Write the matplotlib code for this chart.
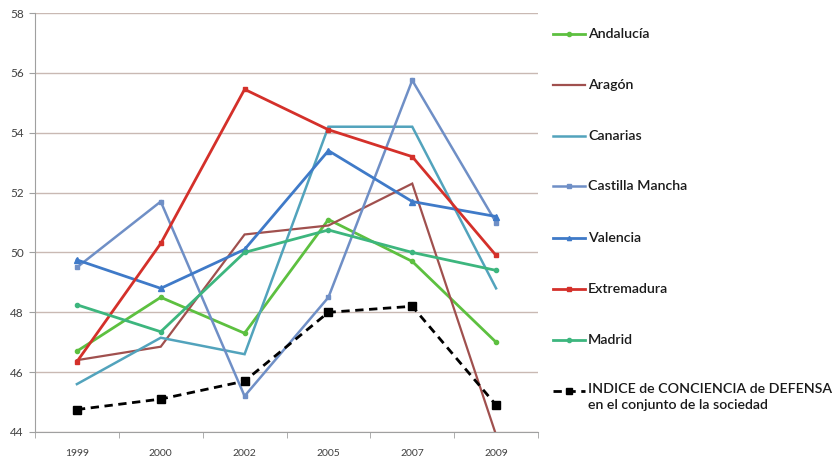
import matplotlib
matplotlib.use("Agg")
import matplotlib.pyplot as plt
from matplotlib.lines import Line2D

years = ["1999", "2000", "2002", "2005", "2007", "2009"]
andalucia = [46.7, 48.5, 47.3, 51.1, 49.7, 47.0]
aragon = [46.4, 46.85, 50.6, 50.9, 52.3, 43.9]
canarias = [45.6, 47.15, 46.6, 54.2, 54.2, 48.8]
castilla_mancha = [49.5, 51.7, 45.2, 48.5, 55.75, 51.0]
valencia = [49.75, 48.8, 50.1, 53.4, 51.7, 51.2]
extremadura = [46.35, 50.3, 55.45, 54.1, 53.2, 49.9]
madrid = [48.25, 47.35, 50.0, 50.75, 50.0, 49.4]
indice = [44.75, 45.1, 45.7, 48.0, 48.2, 44.9]

labels = ["Andalucía", "Aragón", "Canarias", "Castilla Mancha", "Valencia",
          "Extremadura", "Madrid",
          "INDICE de CONCIENCIA de DEFENSA\nen el conjunto de la sociedad"]
yticks = [44, 46, 48, 50, 52, 54, 56, 58]

series = [andalucia, aragon, canarias, castilla_mancha, valencia, extremadura, madrid, indice]
styles = [
    dict(color="#5DC040", marker="o", ms=3, lw=2.0),
    dict(color="#A0504E", marker="", ms=0, lw=1.6),
    dict(color="#52A3BC", marker="", ms=0, lw=1.8),
    dict(color="#6F8FC6", marker="s", ms=3.5, lw=1.8),
    dict(color="#3F7AC8", marker="^", ms=4, lw=2.0),
    dict(color="#D4302A", marker="s", ms=3.5, lw=2.0),
    dict(color="#3DB67E", marker="o", ms=3, lw=2.0),
    dict(color="#000000", marker="s", ms=5.5, lw=2.0, ls=(0, (3, 2))),
]

plt.rcParams["font.family"] = ["Lato", "DejaVu Sans"]
fig = plt.figure(figsize=(8.33, 4.62), dpi=100)
ax = fig.add_axes([35/833, 1-432/462, (538-35)/833, (432-13)/462])

x = list(range(len(years)))
for vals, st in zip(series, styles):
    ax.plot(x, vals, solid_joinstyle="miter", **st)

ax.set_xlim(-0.5, len(years)-0.5)
ax.set_ylim(44, 58)
ax.set_yticks(yticks)
ax.set_yticklabels([str(v) for v in yticks])
ax.grid(axis="y", color="#C9B9B3", lw=1.0)
ax.set_axisbelow(True)
ax.set_xticks(x)
ax.set_xticklabels(years)
ax.set_xticks([i-0.5 for i in range(len(years)+1)], minor=True)
ax.tick_params(axis="x", which="major", length=0, pad=12, labelsize=7.5, labelcolor="#404040")
ax.tick_params(axis="x", which="minor", length=4, color="#A0A0A0", direction="out")
ax.tick_params(axis="y", length=4, color="#A0A0A0", labelsize=8.5, labelcolor="#404040", pad=4)
for s in ["top", "right"]:
    ax.spines[s].set_visible(False)
ax.spines["left"].set_color("#A0A0A0")
ax.spines["bottom"].set_color("#A0A0A0")

# legend drawn in figure coordinates
ys = [34, 85, 136, 186, 238, 289, 340, 391]
for lab, st, yy in zip(labels, styles, ys):
    yf = 1 - yy/462
    kw = dict(st)
    ms = kw.pop("ms")
    mk = kw.pop("marker")
    if kw["color"] == "#000000":
        ms = 4
    else:
        ms = min(ms, 3)
    fig.add_artist(Line2D([553/833, 585/833], [yf, yf], transform=fig.transFigure, **kw))
    if mk:
        fig.add_artist(Line2D([569/833], [yf], transform=fig.transFigure, marker=mk,
                              ms=ms, color=kw["color"], lw=0))
    if "\n" in lab:
        fig.text(588/833, 1-(391-8)/462, lab, fontsize=10.2, color="#1A1A1A", va="top",
                 ha="left", linespacing=1.4, fontweight="semibold")
    else:
        fig.text(588/833, yf, lab, fontsize=10.2, color="#1A1A1A", va="center",
                 ha="left", fontweight="semibold")

fig.savefig("out.png", dpi=100)
